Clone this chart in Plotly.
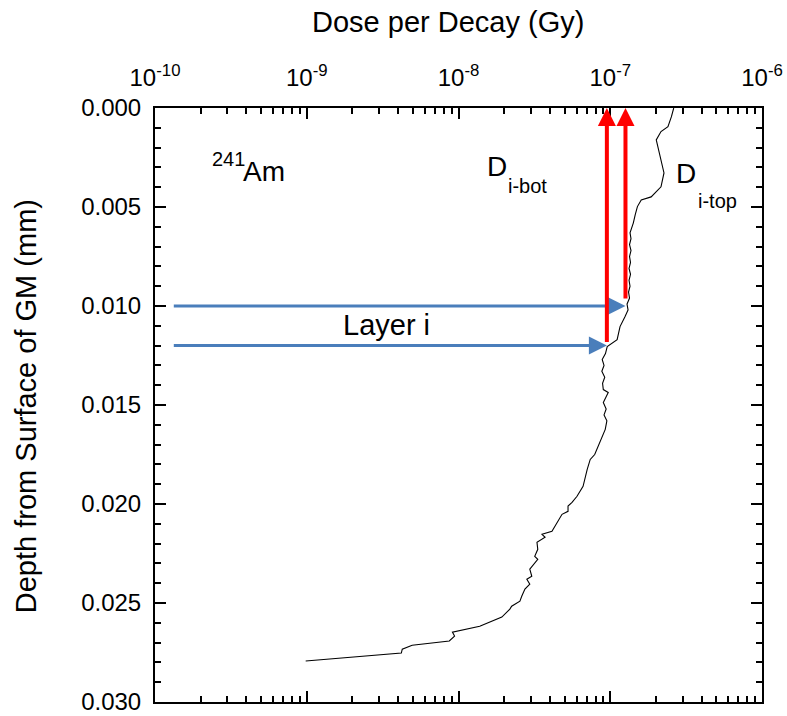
import numpy as np
import plotly.graph_objects as go

# Dose-per-decay profile for 241Am versus depth below the GM surface
depth_mm = [
    0.0000, 0.00044, 0.00094, 0.00119, 0.00161, 0.00227, 0.00277, 0.00328,
    0.00398, 0.00449, 0.00464, 0.00498, 0.00540, 0.00580,
    0.0063, 0.0066, 0.0069, 0.0072, 0.0075, 0.0078, 0.0081, 0.0084,
    0.0087, 0.0090, 0.0093, 0.0096, 0.0099, 0.0102, 0.01054, 0.01104,
    0.01170, 0.01205, 0.01240, 0.0127, 0.0130, 0.0133, 0.0136, 0.0139,
    0.01422, 0.01437, 0.01487, 0.0152, 0.0155, 0.0158, 0.01623, 0.01659,
    0.01724, 0.01750, 0.01775, 0.01825, 0.01911, 0.01961, 0.01992, 0.02010,
    0.02037, 0.02052, 0.02138, 0.02153, 0.02168, 0.02193, 0.02229, 0.02264,
    0.02279, 0.02329, 0.02365, 0.02380, 0.02405, 0.02430, 0.02466, 0.02491,
    0.02516, 0.02531, 0.02571, 0.02617, 0.02647, 0.02667, 0.02692, 0.02713,
    0.02733, 0.02753, 0.02793,
]
dose_gy = [
    2.62e-7, 2.53e-7, 2.40e-7, 2.16e-7, 2.01e-7, 2.10e-7, 2.16e-7, 2.26e-7,
    2.16e-7, 1.86e-7, 1.60e-7, 1.51e-7, 1.46e-7, 1.42e-7,
    1.35e-7, 1.37e-7, 1.34e-7, 1.37e-7, 1.34e-7, 1.36e-7, 1.33e-7, 1.36e-7,
    1.33e-7, 1.35e-7, 1.32e-7, 1.34e-7, 1.29e-7, 1.31e-7, 1.25e-7, 1.16e-7,
    1.11e-7, 9.55e-8, 9.3e-8, 8.85e-8, 9.1e-8, 8.8e-8, 9.2e-8, 8.9e-8,
    9.0e-8, 9.7e-8, 9.0e-8, 9.4e-8, 9.1e-8, 9.5e-8, 9.27e-8, 8.85e-8,
    8.2e-8, 7.9e-8, 7.38e-8, 7.05e-8, 6.62e-8, 6.04e-8, 5.6e-8, 5.27e-8,
    5.27e-8, 4.81e-8, 4.13e-8, 3.55e-8, 3.72e-8, 3.29e-8, 3.33e-8, 3.18e-8,
    3.33e-8, 2.95e-8, 3.04e-8, 2.82e-8, 2.95e-8, 2.74e-8, 2.61e-8, 2.54e-8,
    2.24e-8, 2.18e-8, 1.93e-8, 1.38e-8, 9.12e-9, 9.42e-9, 8.7e-9, 4.95e-9,
    4.26e-9, 4.2e-9, 9.84e-10,
]

# Layer i boundaries and the dose values read at them
layer_depths = [0.010, 0.012]          # top, bottom of layer i (mm)
layer_doses = [1.26e-7, 9.5e-8]        # D_i-top, D_i-bot (Gy)
layer_arrow_start = 1.3e-10            # left end of the depth arrows
red_arrow_bottom = [0.0097, 0.0119]    # lower ends of the vertical arrows

x_tickvals = [1e-10, 1e-9, 1e-8, 1e-7, 1e-6]
x_ticktext = ["10<sup>-10</sup>", "10<sup>-9</sup>", "10<sup>-8</sup>",
              "10<sup>-7</sup>", "10<sup>-6</sup>"]
x_minor = [k * 10.0 ** e for e in range(-10, -6) for k in range(2, 10)]

FONT = "Liberation Sans, Arial, sans-serif"
BLUE = "#4A7EBB"
RED = "#FF0000"

fig = go.Figure()
fig.add_trace(go.Scatter(
    x=dose_gy, y=depth_mm, mode="lines",
    line=dict(color="black", width=1.1),
    hoverinfo="skip", showlegend=False,
))

lg = np.log10

# Horizontal arrows marking the layer boundaries
for d, xd in zip(layer_depths, layer_doses):
    fig.add_annotation(
        x=lg(xd), y=d, ax=lg(layer_arrow_start), ay=d,
        xref="x", yref="y", axref="x", ayref="y",
        showarrow=True, arrowhead=2, arrowsize=1.2, arrowwidth=3,
        arrowcolor=BLUE, text="",
    )

# Vertical arrows projecting the boundary doses onto the dose axis
for xd, yb in zip(layer_doses, red_arrow_bottom):
    fig.add_annotation(
        x=lg(xd), y=0.0, ax=lg(xd), ay=yb,
        xref="x", yref="y", axref="x", ayref="y",
        showarrow=True, arrowhead=2, arrowsize=0.9, arrowwidth=4,
        arrowcolor=RED, text="",
    )

def label(text, x, y, size, anchor="left"):
    fig.add_annotation(
        x=lg(x), y=y, xref="x", yref="y", text=text, showarrow=False,
        xanchor=anchor, yanchor="middle",
        font=dict(family=FONT, size=size, color="black"),
    )

label("241", 2.3e-10, 0.0026, 20)
label("Am", 3.66e-10, 0.00322, 28)
label("D", 1.49e-8, 0.00297, 28)
label("i-bot", 2.05e-8, 0.00395, 20)
label("D", 2.63e-7, 0.0033, 28)
label("i-top", 3.65e-7, 0.0047, 20)
label("Layer i", 1.67e-9, 0.01094, 29)

# Axis titles
fig.add_annotation(
    x=0.482, y=1.145, xref="paper", yref="paper", showarrow=False,
    text="Dose per Decay (Gy)", xanchor="center", yanchor="middle",
    font=dict(family=FONT, size=29, color="black"),
)
fig.add_annotation(
    x=-0.2125, y=0.498, xref="paper", yref="paper", showarrow=False,
    text="Depth from Surface of GM (mm)", textangle=-90,
    xanchor="center", yanchor="middle",
    font=dict(family=FONT, size=29, color="black"),
)

axis_common = dict(
    showline=True, linecolor="black", linewidth=2, mirror="allticks",
    ticks="inside", ticklen=11, tickwidth=2, tickcolor="black",
    showgrid=False, zeroline=False, automargin=False,
    tickfont=dict(family=FONT, size=24, color="black"),
)

fig.update_xaxes(
    type="log", range=[-10, -6], side="top",
    tickmode="array", tickvals=x_tickvals, ticktext=x_ticktext,
    ticklabelstandoff=10,
    minor=dict(tickmode="array", tickvals=x_minor, ticks="inside",
               ticklen=6, tickwidth=1.5, tickcolor="black", showgrid=False),
    **axis_common,
)
fig.update_yaxes(
    range=[0.030, 0.0], dtick=0.005, tick0=0, tickformat=".3f",
    ticklabelstandoff=7,
    minor=dict(dtick=0.001, ticks="inside", ticklen=6, tickwidth=1.5,
               tickcolor="black", showgrid=False),
    **axis_common,
)

fig.update_layout(
    width=787, height=716,
    margin=dict(l=155, r=25, t=108, b=14),
    paper_bgcolor="white", plot_bgcolor="white",
    font=dict(family=FONT, color="black"),
)

fig.write_html("out.html")
